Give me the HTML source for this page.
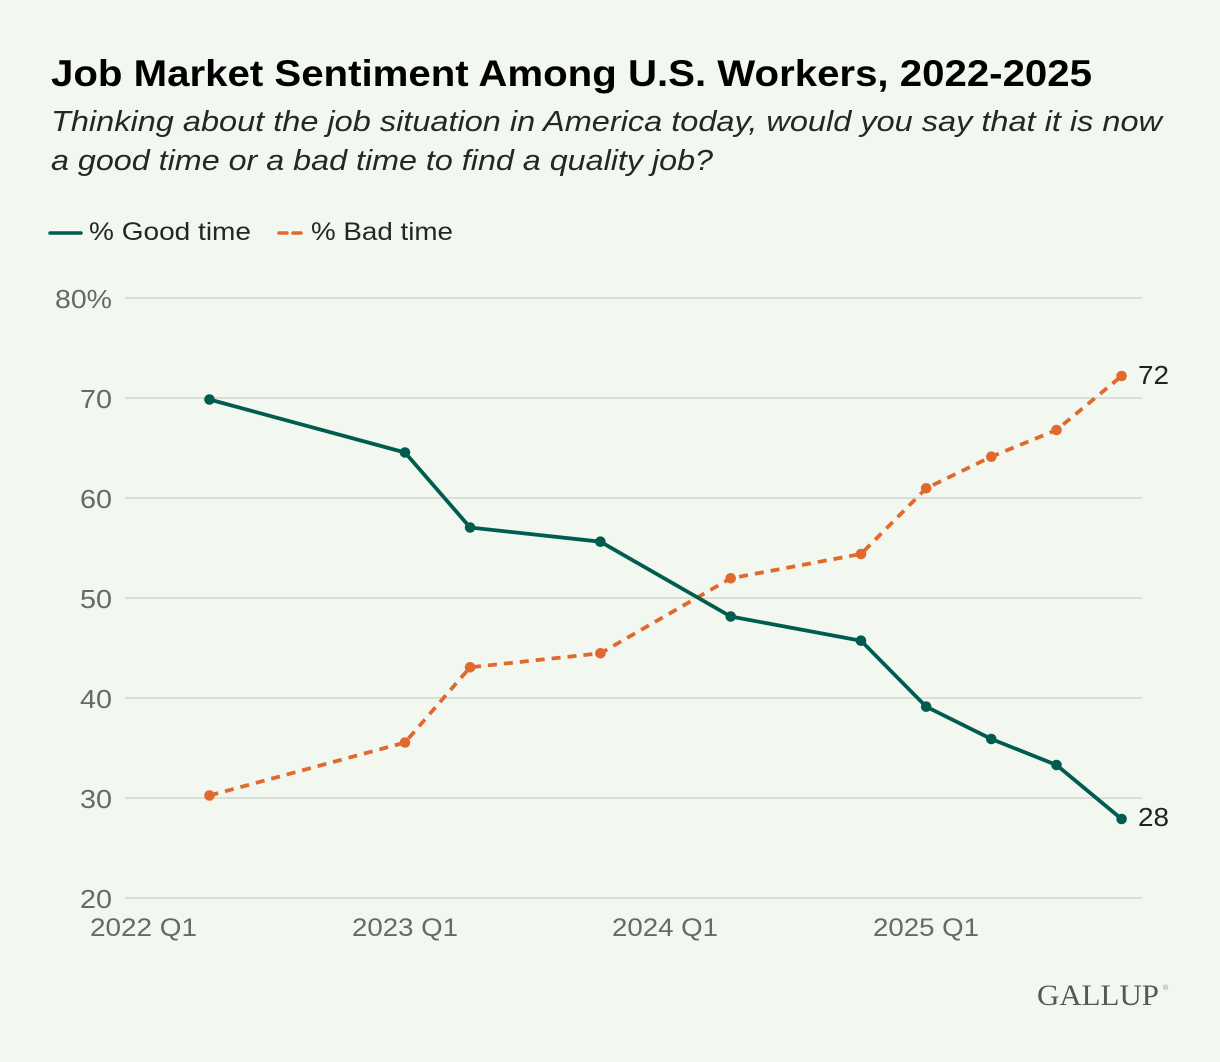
<!DOCTYPE html>
<html>
<head>
<meta charset="utf-8">
<style>
  html,body{margin:0;padding:0;background:#f2f7f0;}
  svg{display:block;}
</style>
</head>
<body>
<svg width="1220" height="1062" viewBox="0 0 1220 1062" xmlns="http://www.w3.org/2000/svg">
  <rect x="0" y="0" width="1220" height="1062" fill="#f2f7f0"/>

  <!-- Title -->
  <text x="51" y="86" font-family="Liberation Sans, sans-serif" font-weight="bold" font-size="37" fill="#000" textLength="1041" lengthAdjust="spacingAndGlyphs">Job Market Sentiment Among U.S. Workers, 2022-2025</text>

  <!-- Subtitle -->
  <text x="51" y="131" font-family="Liberation Sans, sans-serif" font-style="italic" font-size="29" fill="#262626" textLength="1111" lengthAdjust="spacingAndGlyphs">Thinking about the job situation in America today, would you say that it is now</text>
  <text x="51" y="170" font-family="Liberation Sans, sans-serif" font-style="italic" font-size="29" fill="#262626" textLength="662" lengthAdjust="spacingAndGlyphs">a good time or a bad time to find a quality job?</text>

  <!-- Legend -->
  <line x1="50" y1="233" x2="81" y2="233" stroke="#005c4f" stroke-width="3.5" stroke-linecap="round"/>
  <text x="89" y="240" font-family="Liberation Sans, sans-serif" font-size="25" fill="#262626" textLength="162" lengthAdjust="spacingAndGlyphs">% Good time</text>
  <line x1="279" y1="233" x2="287" y2="233" stroke="#e06a2d" stroke-width="3.5" stroke-linecap="round"/>
  <line x1="293" y1="233" x2="301" y2="233" stroke="#e06a2d" stroke-width="3.5" stroke-linecap="round"/>
  <text x="311" y="240" font-family="Liberation Sans, sans-serif" font-size="25" fill="#262626" textLength="142" lengthAdjust="spacingAndGlyphs">% Bad time</text>

  <!-- Gridlines -->
  <g stroke="#d9dfd7" stroke-width="2">
    <line x1="125" y1="298" x2="1142" y2="298"/>
    <line x1="125" y1="398" x2="1142" y2="398"/>
    <line x1="125" y1="498" x2="1142" y2="498"/>
    <line x1="125" y1="598" x2="1142" y2="598"/>
    <line x1="125" y1="698" x2="1142" y2="698"/>
    <line x1="125" y1="798" x2="1142" y2="798"/>
    <line x1="125" y1="898" x2="1142" y2="898"/>
  </g>

  <!-- Y tick labels -->
  <g font-family="Liberation Sans, sans-serif" font-size="26" fill="#686868">
    <text x="55" y="308" textLength="57" lengthAdjust="spacingAndGlyphs">80%</text>
    <text x="80" y="408" textLength="32" lengthAdjust="spacingAndGlyphs">70</text>
    <text x="80" y="508" textLength="32" lengthAdjust="spacingAndGlyphs">60</text>
    <text x="80" y="608" textLength="32" lengthAdjust="spacingAndGlyphs">50</text>
    <text x="80" y="708" textLength="32" lengthAdjust="spacingAndGlyphs">40</text>
    <text x="80" y="808" textLength="32" lengthAdjust="spacingAndGlyphs">30</text>
    <text x="80" y="908" textLength="32" lengthAdjust="spacingAndGlyphs">20</text>
  </g>

  <!-- X tick labels -->
  <g font-family="Liberation Sans, sans-serif" font-size="25" fill="#686868">
    <text x="90" y="936" textLength="107" lengthAdjust="spacingAndGlyphs">2022 Q1</text>
    <text x="352" y="936" textLength="106" lengthAdjust="spacingAndGlyphs">2023 Q1</text>
    <text x="612" y="936" textLength="106" lengthAdjust="spacingAndGlyphs">2024 Q1</text>
    <text x="873" y="936" textLength="106" lengthAdjust="spacingAndGlyphs">2025 Q1</text>
  </g>

  <!-- Bad time series (dashed) -->
  <polyline fill="none" stroke="#e06a2d" stroke-width="3.8" stroke-dasharray="9 7" stroke-linejoin="round"
    points="209.5,795.5 405,742.5 470.1,667.3 600.4,653.3 730.7,578.3 861,554 926.2,488.3 991.3,456.7 1056.5,430 1121.6,376"/>
  <g fill="#e06a2d">
    <circle cx="209.5" cy="795.5" r="5.3"/>
    <circle cx="405" cy="742.5" r="5.3"/>
    <circle cx="470.1" cy="667.3" r="5.3"/>
    <circle cx="600.4" cy="653.3" r="5.3"/>
    <circle cx="730.7" cy="578.3" r="5.3"/>
    <circle cx="861" cy="554" r="5.3"/>
    <circle cx="926.2" cy="488.3" r="5.3"/>
    <circle cx="991.3" cy="456.7" r="5.3"/>
    <circle cx="1056.5" cy="430" r="5.3"/>
    <circle cx="1121.6" cy="376" r="5.3"/>
  </g>

  <!-- Good time series (solid) -->
  <polyline fill="none" stroke="#005c4f" stroke-width="3.8" stroke-linejoin="round"
    points="209.5,399.5 405,452.5 470.1,527.5 600.4,541.7 730.7,616.5 861,640.7 926.2,706.7 991.3,739 1056.5,765 1121.6,819"/>
  <g fill="#005c4f">
    <circle cx="209.5" cy="399.5" r="5.3"/>
    <circle cx="405" cy="452.5" r="5.3"/>
    <circle cx="470.1" cy="527.5" r="5.3"/>
    <circle cx="600.4" cy="541.7" r="5.3"/>
    <circle cx="730.7" cy="616.5" r="5.3"/>
    <circle cx="861" cy="640.7" r="5.3"/>
    <circle cx="926.2" cy="706.7" r="5.3"/>
    <circle cx="991.3" cy="739" r="5.3"/>
    <circle cx="1056.5" cy="765" r="5.3"/>
    <circle cx="1121.6" cy="819" r="5.3"/>
  </g>

  <!-- End labels -->
  <text x="1138" y="384" font-family="Liberation Sans, sans-serif" font-size="26" fill="#222" textLength="31" lengthAdjust="spacingAndGlyphs">72</text>
  <text x="1138" y="826" font-family="Liberation Sans, sans-serif" font-size="26" fill="#222" textLength="31" lengthAdjust="spacingAndGlyphs">28</text>

  <!-- Logo -->
  <text x="1037" y="1005" font-family="Liberation Serif, serif" font-size="30" fill="#575757" textLength="122" lengthAdjust="spacingAndGlyphs">GALLUP</text>
  <text x="1163" y="990" font-family="Liberation Sans, sans-serif" font-size="7" fill="#888">®</text>
</svg>
</body>
</html>
